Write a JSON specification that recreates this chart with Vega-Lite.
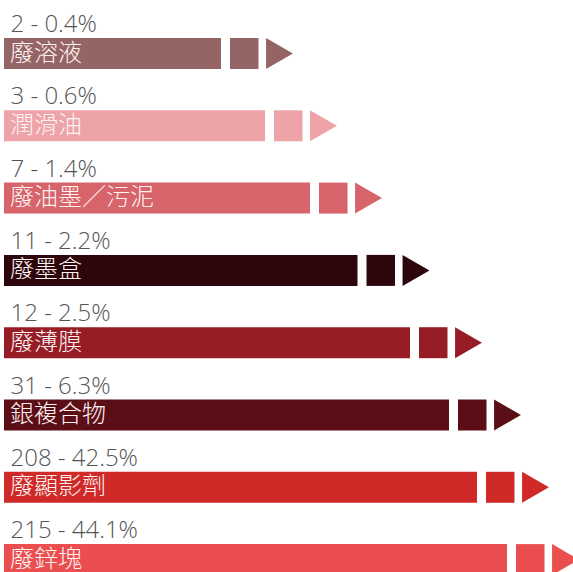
{
  "$schema": "https://vega.github.io/schema/vega-lite/v6.json",
  "width": 573,
  "height": 572,
  "autosize": "none",
  "padding": 0,
  "background": "white",
  "config": {"view": {"stroke": null}},
  "data": {"values": [
    {"cat": "廢溶液", "label": "2 - 0.4%", "len": 217},
    {"cat": "潤滑油", "label": "3 - 0.6%", "len": 261},
    {"cat": "廢油墨／污泥", "label": "7 - 1.4%", "len": 306},
    {"cat": "廢墨盒", "label": "11 - 2.2%", "len": 353.5},
    {"cat": "廢薄膜", "label": "12 - 2.5%", "len": 406},
    {"cat": "銀複合物", "label": "31 - 6.3%", "len": 445},
    {"cat": "廢顯影劑", "label": "208 - 42.5%", "len": 473},
    {"cat": "廢鋅塊", "label": "215 - 44.1%", "len": 503}
  ]},
  "encoding": {
    "y": {"field": "cat", "type": "nominal", "sort": null, "axis": null,
          "scale": {"range": [17.35, 595.75], "paddingInner": 0, "paddingOuter": 0}},
    "color": {"field": "cat", "type": "nominal", "legend": null,
              "scale": {"domain": ["廢溶液","潤滑油","廢油墨／污泥","廢墨盒","廢薄膜","銀複合物","廢顯影劑","廢鋅塊"],
                        "range": ["#956565","#eda3a7","#d6646a","#2d060b","#961d26","#5c0e16","#cf2a28","#ea4e4e"]}}
  },
  "layer": [
    {
      "mark": {"type": "bar", "height": 31, "cornerRadius": 0},
      "encoding": {
        "x": {"field": "len", "type": "quantitative", "axis": null, "scale": {"domain": [-4, 569], "range": [0, 573], "nice": false, "zero": false}},
        "x2": {"datum": 0}
      }
    },
    {
      "mark": {"type": "bar", "height": 31, "xOffset": 9, "x2Offset": 37.5},
      "encoding": {
        "x": {"field": "len", "type": "quantitative"},
        "x2": {"field": "len"}
      }
    },
    {
      "mark": {"type": "point", "shape": "triangle-right", "size": 961, "filled": true, "opacity": 1, "xOffset": 58.5},
      "encoding": {
        "x": {"field": "len", "type": "quantitative"}
      }
    },
    {
      "mark": {"type": "text", "align": "left", "baseline": "middle", "xOffset": 6, "font": "Noto Sans CJK TC Light, Noto Sans CJK TC", "fontSize": 24, "fontWeight": 300},
      "encoding": {
        "x": {"datum": 0, "type": "quantitative"},
        "text": {"field": "cat"},
        "color": {"value": "#fdf2f2"}
      }
    },
    {
      "mark": {"type": "text", "align": "left", "baseline": "alphabetic", "xOffset": 6.5, "yOffset": -21.5, "font": "Open Sans", "fontSize": 24, "fontWeight": 300},
      "encoding": {
        "x": {"datum": 0, "type": "quantitative"},
        "text": {"field": "label"},
        "color": {"value": "#555555"}
      }
    }
  ]
}
